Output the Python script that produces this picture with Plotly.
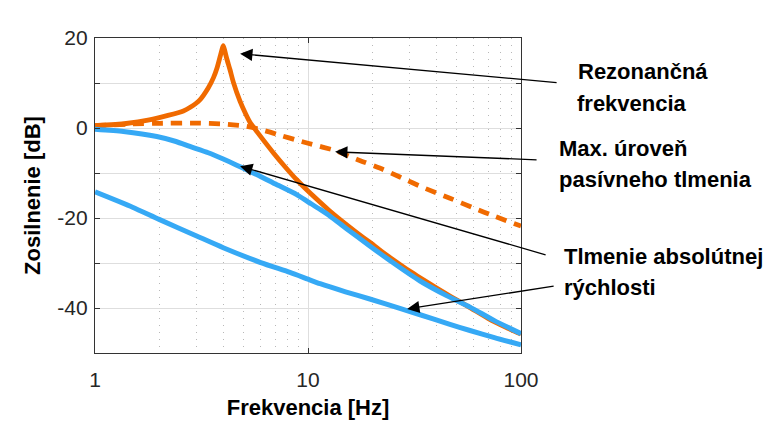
import math
import plotly.graph_objects as go

# ---------------- data ----------------
freq_res = [1, 1.4, 1.8, 2.2, 2.6, 2.8, 3.1, 3.4, 3.6, 3.75, 3.87, 3.95, 4.0, 4.05, 4.15, 4.3, 4.46,
            4.8, 5.1, 5.35, 5.65, 6.2, 6.9, 7.8, 8.85, 10, 11.4, 12.7, 15, 17, 19.5, 22, 25, 30,
            33.6, 40, 47, 57.6, 70, 85, 100]
gain_res = [0.5, 1.0, 1.8, 2.8, 3.8, 4.6, 6.2, 8.9, 11.2, 13.5, 15.9, 17.5, 18.3, 17.5, 15.5, 13.0, 10.2,
            5.9, 3.1, 1.2, -0.3, -2.8, -5.6, -8.6, -11.5, -14.0, -16.5, -18.5, -21.3, -23.3, -25.4, -27.3,
            -29.2, -31.8, -33.3, -35.5, -37.5, -39.9, -42.3, -44.3, -45.8]

freq_pas = [1, 1.5, 2, 3, 4, 5, 5.6, 6.5, 7.5, 8.85, 10, 13.6, 17, 22, 27, 35, 46.4, 60, 75, 100]
gain_pas = [0.5, 0.9, 1.05, 1.1, 0.9, 0.45, 0.0, -0.8, -1.7, -2.7, -3.4, -5.1, -7.0, -9.0, -10.9,
            -13.3, -15.6, -17.8, -19.6, -21.8]

freq_sky = [1, 1.36, 1.95, 2.4, 2.79, 3.4, 4.0, 4.6, 5.2, 5.9, 7, 8.85, 10, 11.4, 12.7, 15, 19.5,
            25, 33.6, 45, 57.6, 75, 100]
gain_sky = [-0.3, -0.8, -1.9, -3.0, -4.1, -5.5, -6.9, -8.2, -9.4, -10.6, -12.4, -14.8, -16.4, -18.1,
            -19.6, -22.2, -26.2, -29.9, -34.0, -37.3, -39.8, -42.8, -45.7]

freq_low = [1, 1.5, 2, 3, 4, 6, 8.23, 10, 11.4, 15, 19.5, 27, 33.6, 46, 57.6, 75, 100]
gain_low = [-14.2, -17.6, -20.3, -24.0, -26.6, -29.9, -32.1, -33.6, -34.6, -36.4, -38.0, -40.1,
            -41.5, -43.6, -45.0, -46.6, -48.2]

x_tick_vals = [1, 10, 100]
x_tick_text = ["1", "10", "100"]
x_minor_vals = [2, 3, 4, 5, 6, 7, 8, 9, 20, 30, 40, 50, 60, 70, 80, 90]
y_tick_vals = [-40, -30, -20, -10, 0, 10, 20]
y_tick_text = ["-40", "", "-20", "", "0", "", "20"]

label_lines = [
    # text, left px, centre px
    ("Rezonančná", 576, 72),
    ("frekvencia", 575, 103),
    ("Max. úroveň", 557, 148),
    ("pasívneho tlmenia", 557, 179),
    ("Tlmenie absolútnej", 562, 256),
    ("rýchlosti", 562, 287),
]
# arrows: tip (freq, dB), tail offset in px
arrows = [
    (4.8, 16.5, 318, 29),
    (13.4, -5.3, 203, 8),
    (4.8, -8.5, 307, 89),
    (29.2, -40.2, 148, -23),
]

ORANGE = "#F06A00"
BLUE = "#36A9F5"
FONT = "Liberation Sans, Arial, sans-serif"

# plot area in px
L, R, T, B = 95, 521, 38, 353
W, H = 768, 439

fig = go.Figure()
fig.add_trace(go.Scatter(x=freq_res, y=gain_res, mode="lines",
                         line=dict(color=ORANGE, width=4.8, shape="spline", smoothing=0.6),
                         showlegend=False))
fig.add_trace(go.Scatter(x=freq_pas, y=gain_pas, mode="lines",
                         line=dict(color=ORANGE, width=4.8, dash="11px,8px", shape="spline", smoothing=0.6),
                         showlegend=False))
fig.add_trace(go.Scatter(x=freq_sky, y=gain_sky, mode="lines",
                         line=dict(color=BLUE, width=5, shape="spline", smoothing=0.6),
                         showlegend=False))
fig.add_trace(go.Scatter(x=freq_low, y=gain_low, mode="lines",
                         line=dict(color=BLUE, width=5, shape="spline", smoothing=0.6),
                         showlegend=False))

annotations = []
for text, px, py in label_lines:
    annotations.append(dict(
        text=text, xref="paper", yref="paper",
        x=(px - L) / (R - L), y=(B - py) / (B - T),
        xanchor="left", yanchor="middle", showarrow=False,
        font=dict(family=FONT, size=22, color="#000000", weight="bold"),
    ))
for f, g, ax, ay in arrows:
    annotations.append(dict(
        text="", xref="x", yref="y", x=math.log10(f), y=g,
        ax=ax, ay=ay, showarrow=True, arrowhead=2, arrowsize=1.9,
        arrowwidth=1.3, arrowcolor="#000000", standoff=0,
    ))

fig.update_layout(
    width=W, height=H,
    margin=dict(l=L, r=W - R, t=T, b=H - B, autoexpand=False),
    paper_bgcolor="white", plot_bgcolor="white",
    font=dict(family=FONT, color="#262626"),
    annotations=annotations,
    xaxis=dict(
        type="log", range=[0, 2],
        tickvals=x_tick_vals, ticktext=x_tick_text,
        tickfont=dict(size=21, color="#262626"),
        ticklabelstandoff=8,
        ticks="inside", ticklen=5, tickcolor="#333333",
        showline=True, linecolor="#333333", linewidth=1.2, mirror="ticks",
        showgrid=True, gridcolor="#dedede", gridwidth=1,
        minor=dict(tickmode="array", tickvals=x_minor_vals, showgrid=True, griddash="1px,6px",
                   gridcolor="#b8b8b8", gridwidth=1, ticks=""),
        zeroline=False,
        title=dict(text="Frekvencia [Hz]", standoff=9,
                   font=dict(size=22, color="#000000", weight="bold")),
    ),
    yaxis=dict(
        range=[-50, 20],
        tickvals=y_tick_vals, ticktext=y_tick_text,
        tickfont=dict(size=21, color="#262626"),
        ticklabelstandoff=2,
        ticks="inside", ticklen=5, tickcolor="#333333",
        showline=True, linecolor="#333333", linewidth=1.2, mirror="ticks",
        showgrid=True, gridcolor="#dedede", gridwidth=1,
        zeroline=False,
        title=dict(text="Zosilnenie [dB]", standoff=10,
                   font=dict(size=22, color="#000000", weight="bold")),
    ),
)

fig.write_html("out.html", config={"displayModeBar": False},
               post_script="document.body.style.margin='0';document.body.style.overflow='hidden';")
